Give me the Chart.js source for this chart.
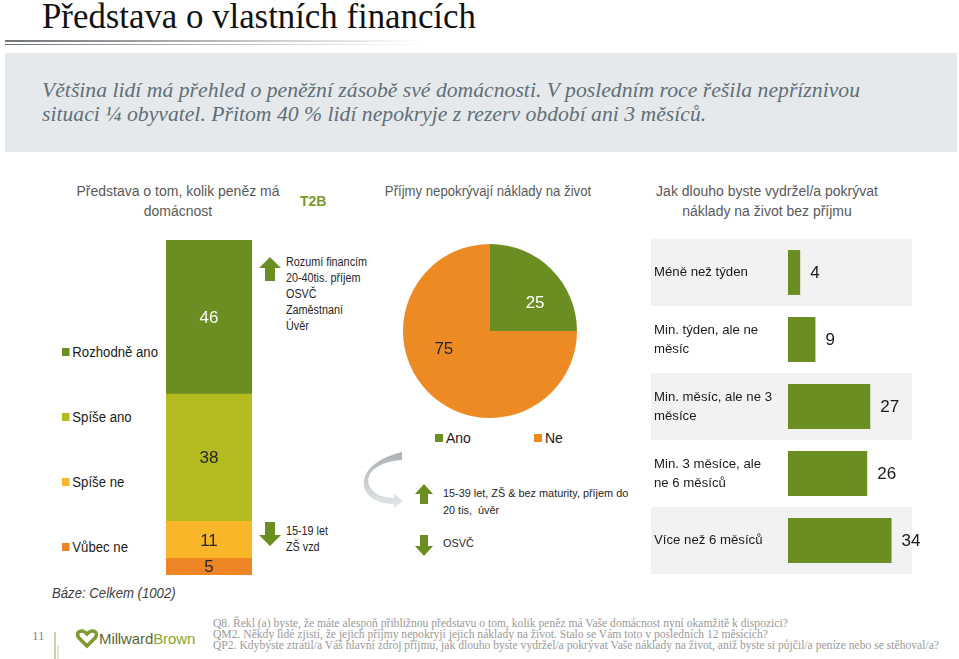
<!DOCTYPE html>
<html>
<head>
<meta charset="utf-8">
<script src="https://cdn.jsdelivr.net/npm/chart.js"></script>
<style>
  html, body { margin: 0; padding: 0; background: #fff; }
  #page { position: relative; width: 959px; height: 659px; overflow: hidden; font-family: "Liberation Sans", Arial, sans-serif; }
  .abs { position: absolute; white-space: nowrap; }
  .title { left: 42px; top: -3px; font-family: "Liberation Serif", Georgia, serif; font-size: 34.8px; color: #111; }
  .rule { left: 5px; height: 2px; width: 420px; background: linear-gradient(to right, #6f7479, rgba(150,155,160,0)); }
  .box { left: 5px; top: 53px; width: 952px; height: 99px; background: #E6E9EB; }
  .lead { left: 42px; top: 78px; font-family: "Liberation Serif", Georgia, serif; font-style: italic; font-size: 21.7px; line-height: 24px; color: #5f6f79; }
  .head { font-size: 14px; line-height: 20px; color: #595959; text-align: center; }
  .t2b { left: 300px; top: 193px; font-size: 14px; font-weight: bold; color: #7a9a2a; }
  .leg { font-size: 14px; color: #1a1a1a; line-height: 18px; }
  .nar { transform: scaleX(0.94); transform-origin: left center; }
  .leg i { display: inline-block; width: 8px; height: 8px; margin-right: 3px; vertical-align: 1px; }
  .note { font-size: 12px; line-height: 16px; color: #262626; transform: scaleX(0.9); transform-origin: left center; }
  .note2 { font-size: 11.5px; line-height: 17px; color: #262626; transform: scaleX(0.945); transform-origin: left center; }
  .base { left: 52px; top: 585px; font-size: 14px; font-style: italic; color: #404040; }
  .foot { left: 213px; top: 618px; font-family: "Liberation Serif", Georgia, serif; font-size: 11.6px; line-height: 11px; color: #9a9a9a; }
  canvas { position: absolute; }
</style>
</head>
<body>
<div id="page">
  <div class="abs title">Představa o vlastních financích</div>
  <div class="abs rule" style="top:40px"></div>
  <div class="abs rule" style="top:44px;height:1px"></div>
  <div class="abs box"></div>
  <div class="abs lead">Většina lidí má přehled o peněžní zásobě své domácnosti. V posledním roce řešila nepříznivou<br>situaci ¼ obyvatel. Přitom 40 % lidí nepokryje z rezerv období ani 3 měsíců.</div>

  <div class="abs head" style="left:68px;top:181px;width:220px">Představa o tom, kolik peněz má<br>domácnost</div>
  <div class="abs t2b">T2B</div>
  <div class="abs head" style="left:368px;top:181px;width:240px;transform:scaleX(0.94)">Příjmy nepokrývají náklady na život</div>
  <div class="abs head" style="left:640px;top:181px;width:254px">Jak dlouho byste vydržel/a pokrývat<br>náklady na život bez příjmu</div>

  <div id="stackLegend"></div>
  <div id="pieLegend"></div>

  <svg class="abs" style="left:0;top:0" width="959" height="659">
    <defs>
      <linearGradient id="curl" x1="0" y1="0" x2="0" y2="1">
        <stop offset="0" stop-color="#a9b1b6"/>
        <stop offset="1" stop-color="#e3e7ea"/>
      </linearGradient>
    </defs>
    <!-- arrows next to stacked bar -->
    <polygon points="270,257 281,268 275,268 275,281 265,281 265,268 259,268" fill="#6b8e23"/>
    <polygon points="270,546 281,535 275,535 275,522 265,522 265,535 259,535" fill="#6b8e23"/>
    <!-- arrows under pie -->
    <polygon points="424,484 433,494 428,494 428,504 420,504 420,494 415,494" fill="#6b8e23"/>
    <polygon points="424,556 433,546 428,546 428,535 420,535 420,546 415,546" fill="#6b8e23"/>
    <!-- curved arrow -->
    <path d="M402,460 C372,462 362,478 372,490 C378,496 386,498 394,498 L394,494 L403,501 L394,508 L394,504 C380,504 366,498 364,486 C362,470 378,458 402,452 Z" fill="url(#curl)"/>
    <!-- footer divider -->
    <line x1="55" y1="632" x2="55" y2="659" stroke="#b8c48a" stroke-width="1.5"/>
    <line x1="58" y1="645" x2="58" y2="659" stroke="#c9d3a0" stroke-width="1"/>
    <!-- logo mark -->
    <path d="M87,646 L79,638 C76,634 78,631 82,631 C84,631 86,633 87,634 C88,633 90,631 92,631 C96,631 98,634 95,638 Z" fill="none" stroke="#7f9a2e" stroke-width="3.5"/>
  </svg>

  <div class="abs note" style="left:286px;top:254px">Rozumí financím<br>20-40tis. příjem<br>OSVČ<br>Zaměstnaní<br>Úvěr</div>
  <div class="abs note" style="left:286px;top:523px">15-19 let<br>ZŠ vzd</div>
  <div class="abs note2" style="left:443px;top:485px">15-39 let, ZŠ &amp; bez maturity, příjem do<br>20 tis,&nbsp; úvěr</div>
  <div class="abs note2" style="left:443px;top:535px">OSVČ</div>

  <div class="abs base nar">Báze: Celkem (1002)</div>

  <div class="abs" style="left:32px;top:628px;font-family:'Liberation Serif',serif;font-size:13px;color:#8a8a8a">11</div>
  <div class="abs" style="left:99px;top:630px;font-size:15px;letter-spacing:-0.1px"><span style="color:#5a6636">Millward</span><span style="color:#8aa52e">Brown</span></div>
  <div class="abs foot">Q8. Řekl (a) byste, že máte alespoň přibližnou představu o tom, kolik peněz má Vaše domácnost nyní okamžitě k dispozici?<br>QM2. Někdy lidé zjistí, že jejich příjmy nepokryjí jejich náklady na život. Stalo se Vám toto v posledních 12 měsících?<br>QP2. Kdybyste ztratil/a Váš hlavní zdroj příjmu, jak dlouho byste vydržel/a pokrývat Vaše náklady na život, aniž byste si půjčil/a peníze nebo se stěhoval/a?</div>

  <canvas id="stack" width="86" height="335" style="left:166px;top:240px"></canvas>
  <canvas id="pie" width="174" height="174" style="left:403px;top:244px"></canvas>
  <canvas id="hbar" width="290" height="335" style="left:651px;top:239px"></canvas>
</div>

<script>
// T2B - představa o penězích domácnosti
const stackSeries = ['Rozhodně ano', 'Spíše ano', 'Spíše ne', 'Vůbec ne'];
const stackValues = [46, 38, 11, 5];
const stackColors = ['#6b8e23', '#b3bb21', '#f9b628', '#ee8626'];
const stackLabelColors = ['#ffffff', '#262626', '#262626', '#262626'];

// Příjmy nepokrývají náklady
const pieLabels = ['Ano', 'Ne'];
const pieValues = [25, 75];
const pieColors = ['#6b8e23', '#ee8a24'];
const pieLabelColors = ['#ffffff', '#262626'];

// Jak dlouho byste vydržel/a
const durationLabels = [
    ['Méně než týden'],
    ['Min. týden, ale ne', 'měsíc'],
    ['Min. měsíc, ale ne 3', 'měsíce'],
    ['Min. 3 měsíce, ale', 'ne 6 měsíců'],
    ['Více než 6 měsíců']
];
const durationValues = [4, 9, 27, 26, 34];

Chart.defaults.font.family = '"Liberation Sans", Arial, sans-serif';

// html legends
let sl = document.getElementById('stackLegend');
const legendTops = [343, 408, 473, 538];
for (let i = 0; i < stackSeries.length; i++) {
    let d = document.createElement('div');
    d.className = 'abs leg nar';
    d.style.left = '62px';
    d.style.top = legendTops[i] + 'px';
    d.innerHTML = '<i style="background:' + stackColors[i] + '"></i>' + stackSeries[i];
    sl.appendChild(d);
}
let pl = document.getElementById('pieLegend');
const pieLegendLeft = [435, 534];
for (let i = 0; i < pieLabels.length; i++) {
    let d = document.createElement('div');
    d.className = 'abs leg';
    d.style.left = pieLegendLeft[i] + 'px';
    d.style.top = '429px';
    d.innerHTML = '<i style="background:' + pieColors[i] + '"></i>' + pieLabels[i];
    pl.appendChild(d);
}

const stackLabelPlugin = {
    id: 'stackLabels',
    afterDatasetsDraw(chart) {
        const c = chart.ctx;
        c.save();
        c.font = '17px "Liberation Sans", Arial';
        c.textAlign = 'center';
        c.textBaseline = 'middle';
        chart.data.datasets.forEach((ds, i) => {
            chart.getDatasetMeta(i).data.forEach(el => {
                c.fillStyle = ds.labelColor;
                c.fillText(ds.data[0], el.x, (el.y + el.base) / 2 + 1);
            });
        });
        c.restore();
    }
};

new Chart(document.getElementById('stack'), {
    type: 'bar',
    data: {
        labels: ['Celkem'],
        datasets: stackSeries.map((s, i) => ({
            label: s,
            data: [stackValues[i]],
            backgroundColor: stackColors[i],
            labelColor: stackLabelColors[i],
            barPercentage: 1,
            categoryPercentage: 1
        })).reverse()
    },
    options: {
        responsive: false,
        animation: false,
        devicePixelRatio: 1,
        layout: { padding: 0 },
        scales: {
            x: { display: false, stacked: true },
            y: { display: false, stacked: true, min: 0, max: 100 }
        },
        plugins: { legend: { display: false }, tooltip: { enabled: false } }
    },
    plugins: [stackLabelPlugin]
});

const pieLabelPlugin = {
    id: 'pieLabels',
    afterDatasetsDraw(chart) {
        const c = chart.ctx;
        c.save();
        c.font = '17px "Liberation Sans", Arial';
        c.textAlign = 'center';
        c.textBaseline = 'middle';
        chart.getDatasetMeta(0).data.forEach((arc, i) => {
            // labels sit a bit clockwise of the slice middle, like the original
            const mid = (arc.startAngle + arc.endAngle) / 2 + (i === 0 ? 0.23 : 0.41);
            const r = arc.outerRadius * (i === 0 ? 0.61 : 0.57);
            c.fillStyle = pieLabelColors[i];
            c.fillText(pieValues[i], arc.x + Math.cos(mid) * r, arc.y + Math.sin(mid) * r);
        });
        c.restore();
    }
};

new Chart(document.getElementById('pie'), {
    type: 'pie',
    data: {
        labels: pieLabels,
        datasets: [{ data: pieValues, backgroundColor: pieColors, borderWidth: 0 }]
    },
    options: {
        responsive: false,
        animation: false,
        devicePixelRatio: 1,
        layout: { padding: 0 },
        plugins: { legend: { display: false }, tooltip: { enabled: false } }
    },
    plugins: [pieLabelPlugin]
});

const rowPlugin = {
    id: 'rows',
    beforeDatasetsDraw(chart) {
        const c = chart.ctx;
        const ys = chart.scales.y;
        const h = ys.height / durationLabels.length;
        c.save();
        c.fillStyle = '#f2f2f2';
        for (let i = 0; i < durationLabels.length; i += 2) {
            const yc = ys.getPixelForValue(i);
            c.fillRect(0, yc - h / 2, chart.chartArea.right, h);
        }
        c.font = '13.2px "Liberation Sans", Arial';
        c.textAlign = 'left';
        c.textBaseline = 'middle';
        c.fillStyle = '#1a1a1a';
        durationLabels.forEach((lines, i) => {
            const yc = ys.getPixelForValue(i);
            lines.forEach((t, j) => {
                c.fillText(t, 3, yc + (j - (lines.length - 1) / 2) * 19);
            });
        });
        c.restore();
    },
    afterDatasetsDraw(chart) {
        const c = chart.ctx;
        c.save();
        c.font = '17px "Liberation Sans", Arial';
        c.textAlign = 'left';
        c.textBaseline = 'middle';
        c.fillStyle = '#1a1a1a';
        chart.getDatasetMeta(0).data.forEach((el, i) => {
            c.fillText(durationValues[i], el.x + 10, el.y + 1);
        });
        c.restore();
    }
};

new Chart(document.getElementById('hbar'), {
    type: 'bar',
    data: {
        labels: durationLabels.map(l => l.join(' ')),
        datasets: [{
            data: durationValues,
            backgroundColor: '#6b8e23',
            barPercentage: 0.67,
            categoryPercentage: 1
        }]
    },
    options: {
        indexAxis: 'y',
        responsive: false,
        animation: false,
        devicePixelRatio: 1,
        layout: { padding: { left: 137, right: 29, top: 0, bottom: 0 } },
        scales: {
            x: { display: false, min: 0, max: 40.7 },
            y: { display: false }
        },
        plugins: { legend: { display: false }, tooltip: { enabled: false } }
    },
    plugins: [rowPlugin]
});
</script>
</body>
</html>
